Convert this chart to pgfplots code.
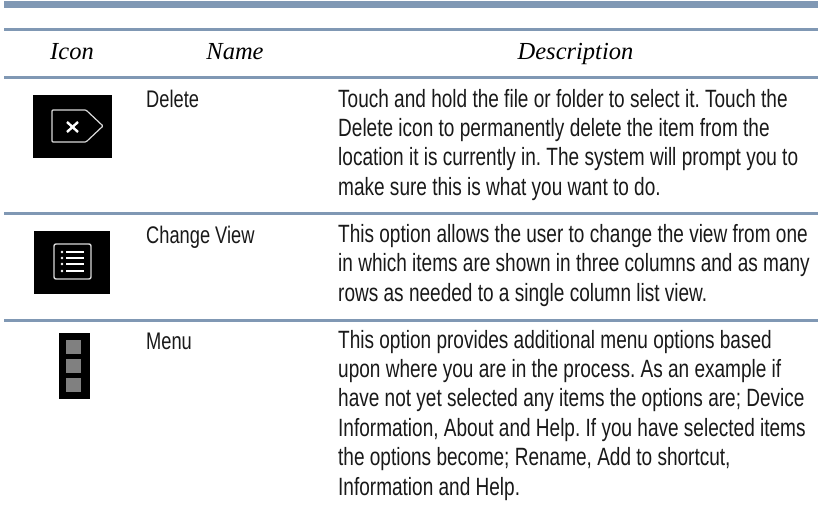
\documentclass[border=0pt]{standalone}
\usepackage{pgfplots}
\pgfplotsset{compat=1.18}
\usepackage{fontspec}
\setmainfont{Liberation Sans}
\newfontfamily\ital{Liberation Serif}
\newfontfamily\narrow[FakeStretch=0.761]{Liberation Sans}
\definecolor{rule}{HTML}{8098B4}
\definecolor{gs}{HTML}{808080}
\frenchspacing
\newcommand{\bl}[3]{\node[anchor=base west,inner sep=0pt,text=black!90,font={\narrow\frenchspacing\fontsize{25pt}{25pt}\selectfont}] at (axis cs:#1,#2) {#3};}
\newcommand{\nm}[3]{\node[anchor=base west,inner sep=0pt,text=black!90,font={\narrow\frenchspacing\fontsize{24pt}{25pt}\selectfont}] at (axis cs:#1,#2) {#3};}
\newcommand{\hd}[2]{\node[anchor=base,inner sep=0pt,font={\ital\itshape\fontsize{24.5pt}{25pt}\selectfont}] at (axis cs:#1,60) {#2};}
\begin{document}
\begin{tikzpicture}[x=1pt,y=1pt]
\path (0,0) rectangle (818pt,513pt);
\begin{axis}[at={(0,0)},anchor=south west,width=818pt,height=513pt,scale only axis,
 xmin=0,xmax=818,ymin=0,ymax=513,y dir=reverse,axis lines=none,clip=false]
% rules
\addplot[draw=none,fill=rule] coordinates {(4,1)(818,1)(818,8.5)(4,8.5)} --cycle;
\addplot[draw=none,fill=rule] coordinates {(4,28)(818,28)(818,31)(4,31)} --cycle;
\addplot[draw=none,fill=rule] coordinates {(4,76)(818,76)(818,79)(4,79)} --cycle;
\addplot[draw=none,fill=rule] coordinates {(4,212)(818,212)(818,215)(4,215)} --cycle;
\addplot[draw=none,fill=rule] coordinates {(4,319)(818,319)(818,322)(4,322)} --cycle;
% icon 1
\addplot[draw=none,fill=black] coordinates {(33,95)(112,95)(112,158)(33,158)} --cycle;
\addplot[white!85!black,line width=1.2pt,rounded corners=1pt] coordinates {(52,110)(86,110)(103,126)(86,142)(52,142)} --cycle;
\addplot[white,line width=2.4pt] coordinates {(67,122)(78,132)};
\addplot[white,line width=2.4pt] coordinates {(78,122)(67,132)};
% icon 2
\addplot[draw=none,fill=black] coordinates {(34,231)(110,231)(110,294)(34,294)} --cycle;
\addplot[white!85!black,line width=1.4pt,rounded corners=2pt] coordinates {(54,244)(91,244)(91,279)(54,279)} --cycle;
\addplot[white,line width=1.4pt] coordinates {(66,252)(84,252)};
\addplot[white,line width=1.4pt] coordinates {(66,258)(84,258)};
\addplot[white,line width=1.4pt] coordinates {(66,264)(84,264)};
\addplot[white,line width=1.4pt] coordinates {(66,271)(84,271)};
\addplot[white,only marks,mark=*,mark size=1.1pt] coordinates {(62,252)(62,258)(62,264)(62,271)};
% icon 3
\addplot[draw=none,fill=black] coordinates {(59,333)(90,333)(90,399)(59,399)} --cycle;
\addplot[draw=none,fill=gs] coordinates {(66,340)(81,340)(81,354)(66,354)} --cycle;
\addplot[draw=none,fill=gs] coordinates {(66,359)(81,359)(81,373)(66,373)} --cycle;
\addplot[draw=none,fill=gs] coordinates {(66,378)(81,378)(81,392)(66,392)} --cycle;
% header
\hd{72}{Icon}
\hd{235}{Name}
\hd{575.5}{Description}
% names
\nm{146}{107.3}{Delete}
\nm{146}{243}{Change View}
\nm{146}{349.5}{Menu}
% description
\bl{338}{107.3}{Touch and hold the file or folder to select it. Touch the}
\bl{338}{137}{Delete icon to permanently delete the item from the}
\bl{338}{166}{location it is currently in. The system will prompt you to}
\bl{338}{195}{make sure this is what you want to do.}
\bl{338}{242.7}{This option allows the user to change the view from one}
\bl{338}{271.7}{in which items are shown in three columns and as many}
\bl{338}{301}{rows as needed to a single column list view.}
\bl{338}{348.3}{This option provides additional menu options based}
\bl{338}{377.7}{upon where you are in the process. As an example if}
\bl{338}{406.7}{have not yet selected any items the options are; Device}
\bl{338}{436.7}{Information, About and Help. If you have selected items}
\bl{338}{465.7}{the options become; Rename, Add to shortcut,}
\bl{338}{495.7}{Information and Help.}
\end{axis}
\end{tikzpicture}
\end{document}
